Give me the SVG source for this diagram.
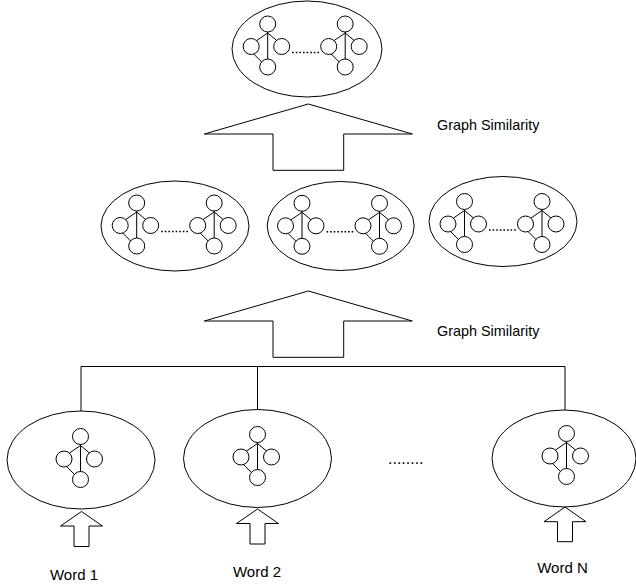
<svg xmlns="http://www.w3.org/2000/svg" xmlns:xlink="http://www.w3.org/1999/xlink" width="636" height="586" viewBox="0 0 636 586">
<style>
.s{fill:none;stroke:#000;stroke-width:1}
.w{fill:#fff;stroke:#000;stroke-width:1}
.d{fill:none;stroke:#000;stroke-width:1.6;stroke-dasharray:1.6 2}
.t{font-family:"Liberation Sans",Arial,sans-serif;fill:#000}
</style>
<defs>
<g id="gr">
<line class="s" x1="0" y1="8" x2="0" y2="35"/>
<line class="s" x1="0" y1="9" x2="-11" y2="16.5"/>
<line class="s" x1="0" y1="9" x2="9" y2="16.5"/>
<line class="s" x1="-14" y1="30" x2="-6" y2="38"/>
<circle class="s" cx="0" cy="0" r="8"/>
<circle class="s" cx="-16.5" cy="22.5" r="8"/>
<circle class="s" cx="14" cy="22.5" r="8"/>
<circle class="s" cx="0" cy="43" r="8"/>
</g>
<g id="pair">
<use xlink:href="#gr" x="0" y="0"/>
<use xlink:href="#gr" x="77.5" y="0"/>
<line class="d" x1="24.5" y1="28.5" x2="53" y2="28.5"/>
</g>
</defs>

<g id="connectors">
<polyline class="s" points="81,411 81,366.5 565,366.5 565,410"/>
<line class="s" x1="257.5" y1="366.5" x2="257.5" y2="409.5"/>
</g>

<g id="top">
<ellipse class="s" cx="307" cy="49" rx="75" ry="48"/>
<use xlink:href="#pair" x="267.7" y="24"/>
</g>

<g id="arrow1">
<polygon class="s" points="308.3,104 412.3,134 343.7,134 343.7,170.3 273,170.3 273,134 204.3,134"/>
</g>
<text class="t" x="437" y="129.5" font-size="14.4">Graph Similarity</text>

<g id="mid1">
<ellipse class="s" cx="175" cy="226" rx="74" ry="45"/>
<use xlink:href="#pair" x="136.7" y="203"/>
</g>
<g id="mid2">
<ellipse class="s" cx="340.7" cy="226" rx="73.5" ry="44.5"/>
<use xlink:href="#pair" x="302" y="203.3"/>
</g>
<g id="mid3">
<ellipse class="s" cx="503" cy="221.5" rx="74" ry="45"/>
<use xlink:href="#pair" x="464.5" y="201.5"/>
</g>

<g id="arrow2">
<polygon class="s" points="308.3,291 412.3,321 343.7,321 343.7,357.3 273,357.3 273,321 204.3,321"/>
</g>
<text class="t" x="437" y="336" font-size="14.4">Graph Similarity</text>

<g id="word1">
<ellipse class="s" cx="81" cy="460" rx="74" ry="49"/>
<use xlink:href="#gr" x="80.5" y="436.5"/>
<polygon class="s" points="81.5,511.5 102.5,526 89,526 89,546.5 74,546.5 74,526 60.5,526"/>
<text class="t" x="74" y="580" font-size="15" text-anchor="middle">Word 1</text>
</g>
<g id="word2">
<ellipse class="s" cx="257.5" cy="458.5" rx="74" ry="49"/>
<use xlink:href="#gr" x="257.5" y="434.5"/>
<polygon class="s" points="257.5,509 278.5,523.5 265,523.5 265,544 250,544 250,523.5 236.5,523.5"/>
<text class="t" x="257" y="577" font-size="15" text-anchor="middle">Word 2</text>
</g>
<text class="t" x="388" y="464" font-size="16">........</text>
<g id="wordN">
<ellipse class="s" cx="564" cy="458.5" rx="72" ry="48.5"/>
<use xlink:href="#gr" x="566.5" y="433.5"/>
<polygon class="s" points="565,507 586,521.7 572.5,521.7 572.5,541.7 557.5,541.7 557.5,521.7 544,521.7"/>
<text class="t" x="562.5" y="573" font-size="15" text-anchor="middle">Word N</text>
</g>
</svg>
